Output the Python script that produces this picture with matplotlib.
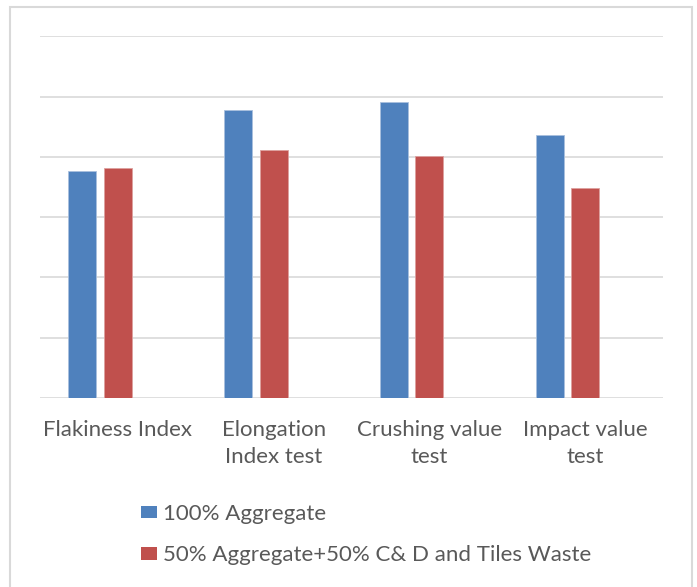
import numpy as np
import matplotlib.pyplot as plt
from matplotlib.patches import Rectangle, Patch

categories = ['Flakiness Index', 'Elongation\nIndex test', 'Crushing value\ntest', 'Impact value\ntest']
aggregate_100 = [18.8, 23.85, 24.55, 21.8]
aggregate_50_waste = [19.05, 20.55, 20.05, 17.45]
series_names = ['100% Aggregate', '50% Aggregate+50% C& D and Tiles Waste']

blue = '#4F81BD'
red = '#C0504D'
grid_col = '#D9D9D9'
text_col = '#595959'

plt.rcParams['font.family'] = ['Lato', 'DejaVu Sans']

fig = plt.figure(figsize=(6.97, 5.87), dpi=100)
W, H = 697, 587
ax = fig.add_axes([40 / W, (H - 398) / H, (663 - 40) / W, (398 - 36.3) / H])

x = np.arange(len(categories))
bar_w = 0.18
step = 0.228
# third (empty) series slot on the right, so the pair sits left of centre
ax.bar(x - step, aggregate_100, width=bar_w, color=blue, edgecolor='#A9C0DE', linewidth=0.6, zorder=3)
ax.bar(x, aggregate_50_waste, width=bar_w, color=red, edgecolor='#DDA09F', linewidth=0.6, zorder=3)

ax.set_xlim(-0.5, len(categories) - 0.5)
ax.set_ylim(0, 30)
ax.set_yticks(np.arange(0, 31, 5))
ax.set_yticklabels([])
ax.yaxis.grid(True, color=grid_col, linewidth=1.2)
ax.set_axisbelow(True)
ax.tick_params(axis='both', length=0)
ax.set_xticks(x)
ax.set_xticklabels(categories, fontsize=16, color=text_col, linespacing=1.45)
ax.tick_params(axis='x', pad=16)
for s in ax.spines.values():
    s.set_visible(False)

# legend
handles = [Patch(facecolor=blue), Patch(facecolor=red)]
fig.legend(handles, series_names, loc='upper left', bbox_to_anchor=(121 / W, 1 - 484 / H),
           frameon=False, fontsize=16, labelcolor=text_col,
           handlelength=0.7, handleheight=0.5, handletextpad=0.3, labelspacing=0.95)

# outer chart border
fig.patches.append(Rectangle((10 / W, -0.01), (692 - 10) / W, 1 - 7 / H + 0.01,
                             transform=fig.transFigure, fill=False,
                             edgecolor=grid_col, linewidth=1.5))

plt.savefig('out.png', dpi=100)
